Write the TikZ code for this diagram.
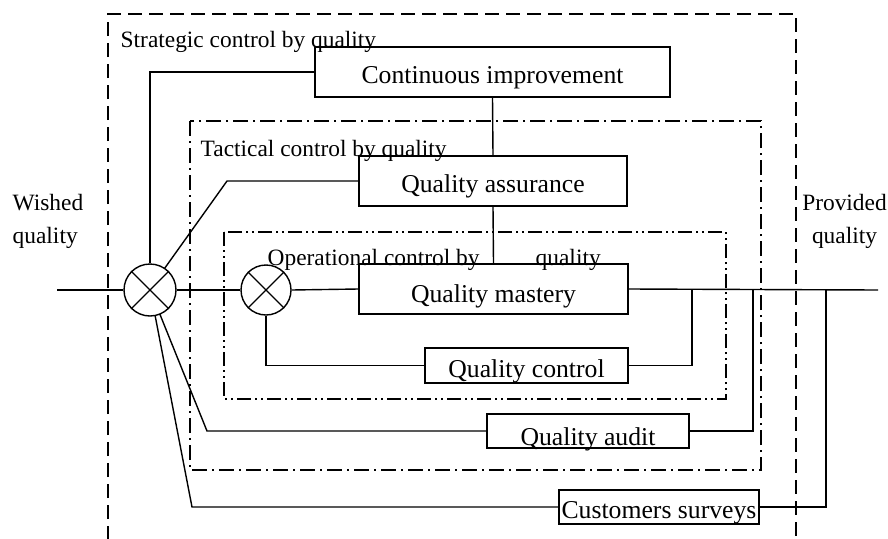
\documentclass[tikz,border=0pt]{standalone}
\usepackage{fontspec}
\setmainfont{Liberation Serif}
\begin{document}
\begin{tikzpicture}[x=1pt,y=-1pt,line width=1.4pt,
  boxtext/.style={font=\fontsize{25.7}{30}\selectfont},
  lbltext/.style={font=\fontsize{23.4}{33}\selectfont},
  blk/.style={draw,boxtext,inner sep=0pt,text height=22pt,text depth=0pt},
  sumj/.style={draw,circle,minimum size=#1,inner sep=0pt},
  stratframe/.style={dash pattern=on 14pt off 7pt},
  tactframe/.style={dash pattern=on 15pt off 5pt on 2pt off 5pt},
  operframe/.style={dash pattern=on 14pt off 4pt on 2pt off 4pt on 2pt off 4pt},
  wire/.style={draw}]
\useasboundingbox (0,0) rectangle (888,538);
% frames
\draw[stratframe] (108,540) -- (108,14) -- (796,14) -- (796,540);
\draw[tactframe] (190,121) rectangle (761,470);
\draw[operframe] (224,232) rectangle (726,399);
% frame labels
\node[lbltext,anchor=base west,inner sep=0pt] (lstrat) at (120,47) {Strategic control by quality};
\node[lbltext,anchor=base west,inner sep=0pt] (ltact) at (200,156) {Tactical control by quality};
\node[lbltext,anchor=base west,inner sep=0pt] (loper) at (267,265) {Operational control by};
\node[lbltext,anchor=base west,inner sep=0pt] (loper2) at (535,265) {quality};
% boxes
\node[blk,minimum width=355pt,minimum height=50pt] (ci) at (492.5,72) {Continuous improvement};
\node[blk,minimum width=268pt,minimum height=50pt] (qa) at (493,181) {Quality assurance};
\node[blk,minimum width=269pt,minimum height=50pt,text height=26pt] (qm) at (493.5,289) {Quality mastery};
\node[blk,minimum width=203pt,minimum height=35pt,text height=23pt] (qc) at (526.5,365.5) {Quality control};
\node[blk,minimum width=202pt,minimum height=34pt,text height=28pt] (qaud) at (588,431) {Quality audit};
\node[blk,minimum width=200pt,minimum height=34pt] (cs) at (659,507) {Customers surveys};
% summing junctions
\node[sumj=52pt] (j1) at (150,290) {};
\node[sumj=50pt] (j2) at (266,290) {};
\draw (j1.north west) -- (j1.south east) (j1.north east) -- (j1.south west);
\draw (j2.north west) -- (j2.south east) (j2.north east) -- (j2.south west);
% input / output
\node[lbltext,anchor=base west,inner sep=0pt,align=left] (win) at (12,243) {Wished\\quality};
\node[lbltext,anchor=base,inner sep=0pt,align=center] (pout) at (844.5,243) {Provided\\quality};
\coordinate (in) at (57,290);
\coordinate (out) at (878,290);
\coordinate (t1) at (692,290);
\coordinate (t2) at (753,290);
\coordinate (t3) at (826,290);
% connectors
\draw (in) -- (j1.west);
\draw (j1.east) -- (j2.west);
\draw (j2.east) -- (qm.west);
\draw (qm.east) -- (out);
\draw (ci.south) -- (qa.north);
\draw (qa.south) -- (qm.north);
\draw (j1.north) |- (ci.west);
\coordinate (d1) at (227,181);
\draw (j1) ++(56:26pt) -- (d1) -- (qa.west);
\coordinate (d2) at (207,431);
\coordinate (d3) at (192,507);
\draw (j1) ++(-67.8:26pt) -- (d2) -- (qaud.west);
\draw (j1) ++(-78.7:26pt) -- (d3) -- (cs.west);
\draw (j2.south) |- (qc.west);
\draw (qc.east) -| (t1);
\draw (qaud.east) -| (t2);
\draw (cs.east) -| (t3);
\end{tikzpicture}
\end{document}
